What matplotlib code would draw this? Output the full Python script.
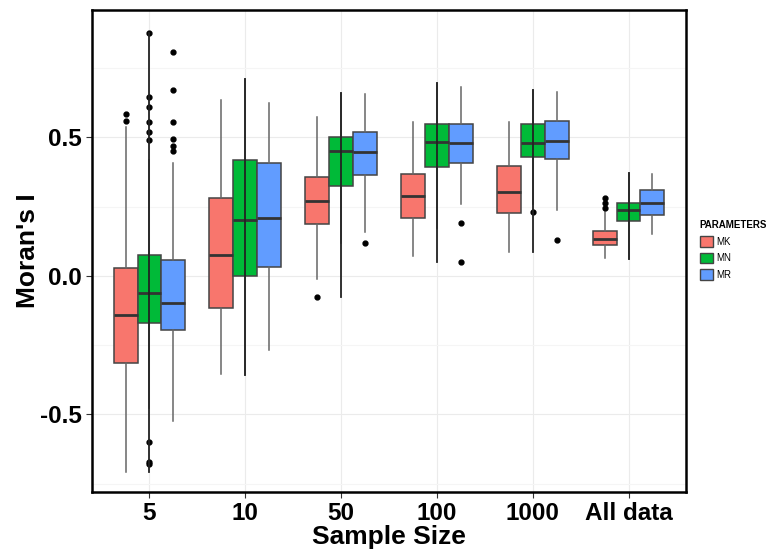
import numpy as np
import matplotlib.pyplot as plt
from matplotlib.patches import Patch

plt.rcParams['font.family'] = ['Liberation Sans', 'DejaVu Sans']

groups = ['5', '10', '50', '100', '1000', 'All data']
params = ['MK', 'MN', 'MR']
colors = ['#F8766D', '#00BA38', '#619CFF']

# box stats per parameter, one value per sample size group
whislo = {
    'MK': [-0.709, -0.355, -0.012, 0.072, 0.087, 0.065],
    'MN': [-0.475, -0.357, 0.120, 0.172, 0.260, 0.062],
    'MR': [-0.523, -0.267, 0.160, 0.260, 0.237, 0.150],
}
q1 = {
    'MK': [-0.313, -0.114, 0.188, 0.208, 0.226, 0.112],
    'MN': [-0.169, 0.001, 0.326, 0.395, 0.428, 0.199],
    'MR': [-0.194, 0.034, 0.365, 0.409, 0.421, 0.219],
}
med = {
    'MK': [-0.141, 0.076, 0.270, 0.290, 0.302, 0.134],
    'MN': [-0.061, 0.202, 0.451, 0.482, 0.479, 0.238],
    'MR': [-0.096, 0.208, 0.449, 0.479, 0.487, 0.262],
}
q3 = {
    'MK': [0.028, 0.283, 0.357, 0.369, 0.396, 0.161],
    'MN': [0.075, 0.418, 0.503, 0.550, 0.547, 0.265],
    'MR': [0.057, 0.408, 0.519, 0.549, 0.558, 0.309],
}
whishi = {
    'MK': [0.539, 0.635, 0.573, 0.556, 0.554, 0.232],
    'MN': [0.419, 0.710, 0.662, 0.697, 0.671, 0.370],
    'MR': [0.407, 0.626, 0.657, 0.683, 0.663, 0.368],
}
fliers = {
    'MK': [[0.585, 0.561], [], [-0.077], [], [], [0.283, 0.265, 0.247]],
    'MN': [[0.878, 0.645, 0.609, 0.556, 0.521, 0.490, -0.600, -0.670, -0.680],
           [], [], [], [0.229], []],
    'MR': [[0.807, 0.670, 0.557, 0.496, 0.469, 0.452], [], [0.118],
           [0.190, 0.052], [0.129], []],
}

fig = plt.figure(figsize=(7.71, 5.5), dpi=100)
ax = fig.add_axes([92 / 771, 1 - 492 / 550, 594 / 771, 482 / 550])

x = np.arange(len(groups)) + 1
width = 0.25
offsets = [-width, 0, width]

for k, p in enumerate(params):
    stats = []
    for i in range(len(groups)):
        stats.append(dict(whislo=whislo[p][i], q1=q1[p][i], med=med[p][i],
                          q3=q3[p][i], whishi=whishi[p][i], fliers=fliers[p][i]))
    ax.bxp(stats, positions=x + offsets[k], widths=width, patch_artist=True,
           showcaps=False,
           boxprops=dict(facecolor=colors[k], edgecolor='#444444', linewidth=1.1),
           medianprops=dict(color='#333333', linewidth=2),
           whiskerprops=dict(color='#666666', linewidth=1.1),
           flierprops=dict(marker='o', markerfacecolor='black', markeredgecolor='black',
                           markersize=3.5))

# dark range line over the whole group
for i in range(len(groups)):
    lo = min(min(whislo[p][i], *(fliers[p][i] or [whislo[p][i]])) for p in params)
    hi = max(max(whishi[p][i], *(fliers[p][i] or [whishi[p][i]])) for p in params)
    ax.plot([x[i], x[i]], [lo, hi], color='#222222', linewidth=1.3, zorder=5)

ax.set_xlim(0.4, 6.6)
ax.set_ylim(-0.78, 0.96)
ax.set_yticks([-0.5, 0.0, 0.5])
ax.set_yticklabels(['-0.5', '0.0', '0.5'])
ax.set_yticks([-0.75, -0.25, 0.25, 0.75], minor=True)
ax.set_xticks(x)
ax.set_xticklabels(groups)
ax.grid(True, which='major', color='#ebebeb', linewidth=0.8)
ax.grid(True, which='minor', axis='y', color='#f5f5f5', linewidth=0.8)
ax.set_axisbelow(True)
ax.tick_params(axis='both', which='major', labelsize=17.5, length=4, width=0.8,
               color='#333333')
ax.tick_params(axis='y', which='minor', length=0)
for lab in ax.get_xticklabels() + ax.get_yticklabels():
    lab.set_fontweight('bold')
for s in ax.spines.values():
    s.set_linewidth(1.8)
    s.set_color('black')

ax.set_xlabel('Sample Size', fontsize=19, fontweight='bold', labelpad=0)
ax.set_ylabel("Moran's I", fontsize=19, fontweight='bold', labelpad=0)

handles = [Patch(facecolor=c, edgecolor='#444444', label=p) for c, p in zip(colors, params)]
leg = fig.legend(handles=handles, title='PARAMETERS', loc='center left',
                 bbox_to_anchor=(693 / 771, 1 - 250 / 550), frameon=False,
                 fontsize=7, title_fontsize=7, handlelength=1.4, handleheight=1.3,
                 handletextpad=0.3, labelspacing=0.6, borderpad=0.2)
leg.get_title().set_fontweight('bold')
leg._legend_box.align = 'left'

fig.savefig('out.png', dpi=100)
